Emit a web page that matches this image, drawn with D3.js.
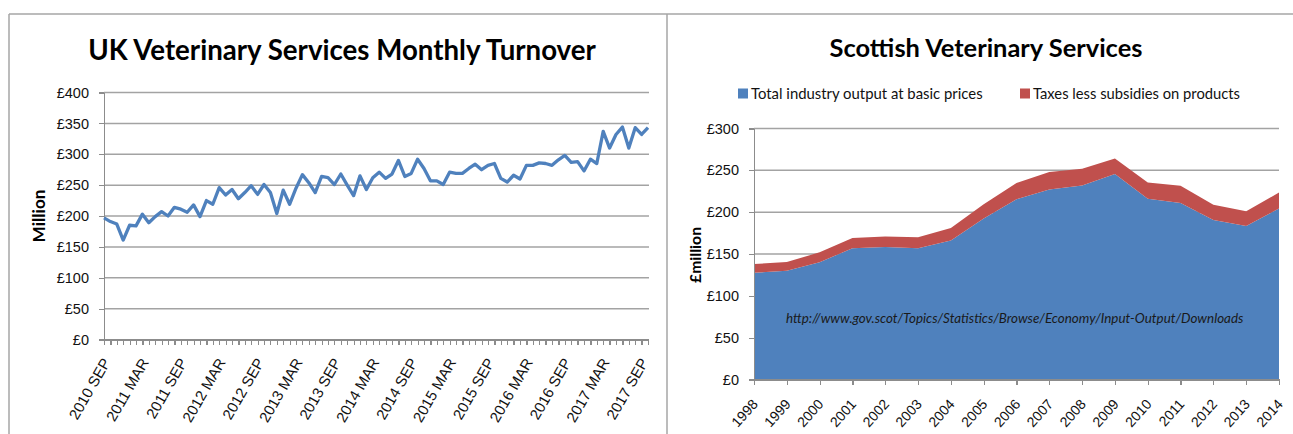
<!DOCTYPE html>
<html>
<head>
<meta charset="utf-8">
<script src="https://cdn.jsdelivr.net/npm/d3@7"></script>
<style>
  body { margin: 0; background: #fff; }
  svg { display: block; font-family: Lato, "Open Sans", sans-serif; }
  .axis path, .axis line { stroke: #8c8c8c; stroke-width: 1.2; shape-rendering: crispEdges; }
  .axis text { fill: #111; }
  .grid line { stroke: #a3a3a3; stroke-width: 1.5; }
</style>
</head>
<body>
<svg id="chart" width="1293" height="434"></svg>
<script>

// UK monthly turnover, £ million, 2010 SEP .. 2017 OCT
var ukValues = [
    197, 191, 187, 161, 185, 184, 203, 189, 199, 207, 200, 214,
    211, 206, 218, 199, 225, 219, 246, 234, 243, 228, 238, 249,
    235, 251, 238, 204, 242, 219, 245, 267, 254, 238, 264, 262,
    251, 268, 250, 233, 265, 243, 262, 271, 261, 268, 290, 264,
    269, 292, 277, 257, 257, 251, 271, 269, 269, 277, 284, 275,
    282, 285, 261, 255, 266, 260, 282, 282, 286, 285, 282, 291,
    298, 287, 288, 273, 292, 285, 337, 310, 332, 344, 310, 343,
    332, 343
];
var ukFirstMonth = new Date(2010, 8, 1),
    ukLastMonth = new Date(2017, 9, 1);
var ukTickLabels = ["2010 SEP", "2011 MAR", "2011 SEP", "2012 MAR", "2012 SEP",
    "2013 MAR", "2013 SEP", "2014 MAR", "2014 SEP", "2015 MAR", "2015 SEP",
    "2016 MAR", "2016 SEP", "2017 MAR", "2017 SEP"];
var ukYTicks = [0, 50, 100, 150, 200, 250, 300, 350, 400];

// Scottish veterinary services, £ million
var scotYears = [1998, 1999, 2000, 2001, 2002, 2003, 2004, 2005, 2006,
    2007, 2008, 2009, 2010, 2011, 2012, 2013, 2014];
var scotOutput = [127.5, 130, 140, 157, 158.5, 157, 166, 192.5, 215.5,
    227, 232, 245.5, 216, 211, 190.5, 183.5, 204.5];
var scotTaxes = [10.5, 10.5, 12, 12, 12.5, 13, 15, 17, 19.5,
    21, 20, 18.5, 19.5, 20.5, 18.5, 17.5, 19];
var scotSeries = ["Total industry output at basic prices", "Taxes less subsidies on products"];
var scotYTicks = [0, 50, 100, 150, 200, 250, 300];

var blue = "#4f81bd",
    red = "#c0504d",
    frame = "#a6a6a6";

var svg = d3.select("#chart");

// squeeze or stretch a text's font size so it spans the given width
function fit(sel, w) {
    var len = sel.node().getComputedTextLength(),
        fs = parseFloat(sel.attr("font-size"));
    sel.attr("font-size", fs * w / len);
}

// panel frames
svg.append("line").attr("x1", 9).attr("x2", 1293).attr("y1", 14).attr("y2", 14)
    .attr("stroke", frame).attr("stroke-width", 1.5);
svg.append("line").attr("x1", 9).attr("x2", 9).attr("y1", 14).attr("y2", 434)
    .attr("stroke", frame).attr("stroke-width", 1.5);
svg.append("line").attr("x1", 667).attr("x2", 667).attr("y1", 14).attr("y2", 434)
    .attr("stroke", frame).attr("stroke-width", 1.5);


// ---------- left: UK monthly turnover ----------

var ukMonths = d3.timeMonth.range(ukFirstMonth, d3.timeMonth.offset(ukLastMonth, 1)),
    monthFmt = d3.timeFormat("%Y %b");

var left = {x0: 104, x1: 648, y0: 339.5, y1: 92.5};

var x1 = d3.scalePoint()
    .domain(ukMonths.map(function(d) { return +d; }))
    .range([left.x0, left.x1]);

var y1 = d3.scaleLinear().domain([0, 400]).range([left.y0, left.y1]);

var lt = svg.append("text")
    .attr("x", 342).attr("y", 60)
    .attr("text-anchor", "middle")
    .attr("font-size", 27).attr("font-weight", "bold")
    .text("UK Veterinary Services Monthly Turnover");
fit(lt, 508);

svg.append("g").attr("class", "grid")
    .selectAll("line")
    .data(ukYTicks.filter(function(d) { return d > 0; }))
    .enter().append("line")
    .attr("x1", left.x0).attr("x2", left.x1 + 1)
    .attr("y1", function(d) { return y1(d); })
    .attr("y2", function(d) { return y1(d); });

svg.append("g").attr("class", "axis")
    .attr("transform", "translate(" + left.x0 + ",0)")
    .call(d3.axisLeft(y1).tickValues(ukYTicks).tickSize(5).tickSizeOuter(0)
        .tickFormat(function(d) { return "£" + d; }))
    .selectAll("text")
    .attr("font-size", 14.5).attr("x", -15);

var ukXAxis = svg.append("g").attr("class", "axis")
    .attr("transform", "translate(0," + left.y0 + ")")
    .call(d3.axisBottom(x1).tickSize(5).tickSizeOuter(0)
        .tickFormat(function(d) {
            var lab = monthFmt(new Date(d)).toUpperCase();
            return ukTickLabels.indexOf(lab) >= 0 ? lab : "";
        }));
ukXAxis.selectAll("text")
    .attr("font-size", 15)
    .attr("text-anchor", "end")
    .attr("x", 0).attr("y", 0).attr("dy", "0.35em")
    .attr("transform", "translate(2,20) rotate(-60)");

var ukLine = d3.line()
    .x(function(d, i) { return x1(+ukMonths[i]); })
    .y(function(d) { return y1(d); });

svg.append("path")
    .datum(ukValues)
    .attr("d", ukLine)
    .attr("fill", "none")
    .attr("stroke", blue)
    .attr("stroke-width", 3.3)
    .attr("stroke-linejoin", "round");

var lm = svg.append("text")
    .attr("transform", "translate(45,216) rotate(-90)")
    .attr("text-anchor", "middle")
    .attr("font-size", 14).attr("font-weight", "bold")
    .text("Million");
fit(lm, 53);


// ---------- right: Scottish veterinary services ----------

var right = {x0: 754, x1: 1279, y0: 379.5, y1: 128.5};

var x2 = d3.scalePoint().domain(scotYears).range([right.x0, right.x1]);
var y2 = d3.scaleLinear().domain([0, 300]).range([right.y0, right.y1]);

var rt = svg.append("text")
    .attr("x", 986).attr("y", 57)
    .attr("text-anchor", "middle")
    .attr("font-size", 27).attr("font-weight", "bold")
    .text("Scottish Veterinary Services");
fit(rt, 313);

// legend
var legend = [
    {name: scotSeries[0], color: blue, x: 738, w: 232},
    {name: scotSeries[1], color: red, x: 1020, w: 207}
];
legend.forEach(function(l) {
    svg.append("rect")
        .attr("x", l.x).attr("y", 88.5)
        .attr("width", 10).attr("height", 10)
        .attr("fill", l.color);
    var t = svg.append("text")
        .attr("x", l.x + 13).attr("y", 98.5)
        .attr("font-size", 14.5).attr("fill", "#111")
        .text(l.name);
    fit(t, l.w);
});

svg.append("g").attr("class", "grid")
    .selectAll("line")
    .data(scotYTicks.filter(function(d) { return d > 0; }))
    .enter().append("line")
    .attr("x1", right.x0).attr("x2", right.x1)
    .attr("y1", function(d) { return y2(d); })
    .attr("y2", function(d) { return y2(d); });

var table = scotYears.map(function(yr, i) {
    return {year: yr, output: scotOutput[i], taxes: scotTaxes[i]};
});
var stacked = d3.stack().keys(["output", "taxes"])(table);

var area = d3.area()
    .x(function(d) { return x2(d.data.year); })
    .y0(function(d) { return y2(d[0]); })
    .y1(function(d) { return y2(d[1]); });

svg.append("g")
    .selectAll("path")
    .data(stacked)
    .enter().append("path")
    .attr("d", area)
    .attr("fill", function(d, i) { return i === 0 ? blue : red; });

svg.append("g").attr("class", "axis")
    .attr("transform", "translate(" + right.x0 + ",0)")
    .call(d3.axisLeft(y2).tickValues(scotYTicks).tickSize(5).tickSizeOuter(0)
        .tickFormat(function(d) { return "£" + d; }))
    .selectAll("text")
    .attr("font-size", 14.5).attr("x", -15);

var scotXAxis = svg.append("g").attr("class", "axis")
    .attr("transform", "translate(0," + right.y0 + ")")
    .call(d3.axisBottom(x2).tickSize(5).tickSizeOuter(0));
scotXAxis.selectAll("text")
    .attr("font-size", 14)
    .attr("text-anchor", "end")
    .attr("x", 0).attr("y", 0).attr("dy", "0.35em")
    .attr("transform", "translate(0.5,22) rotate(-48)");

var rm = svg.append("text")
    .attr("transform", "translate(701,255) rotate(-90)")
    .attr("text-anchor", "middle")
    .attr("font-size", 13).attr("font-weight", "bold")
    .text("£million");
fit(rm, 56);

var url = svg.append("text")
    .attr("x", 786).attr("y", 323)
    .attr("font-size", 14).attr("font-style", "italic")
    .attr("fill", "#1a1a1a")
    .text("http://www.gov.scot/Topics/Statistics/Browse/Economy/Input-Output/Downloads");
fit(url, 458);

</script>
</body>
</html>
